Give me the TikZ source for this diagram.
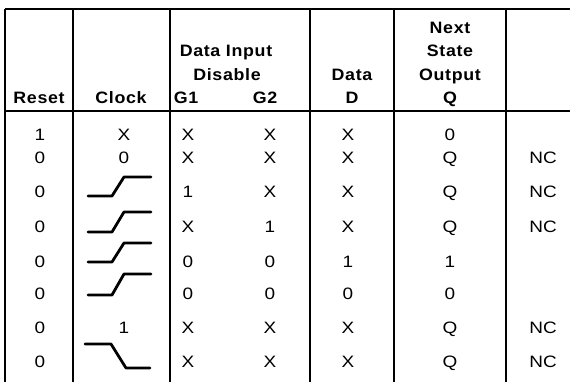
\documentclass[tikz,border=0pt]{standalone}
\usepackage{fontspec}
\setmainfont{Liberation Sans}[FakeStretch=1.15]
\newfontfamily\hdfont{Liberation Sans}[FakeStretch=1.08,LetterSpace=4]
\begin{document}
\begin{tikzpicture}[x=1pt,y=-1pt,
  rule/.style={line width=1.8pt},
  wave/.style={line width=2.8pt,line cap=round,line join=round},
  hd/.style={font=\hdfont\bfseries\fontsize{16.5}{19}\selectfont,inner sep=0pt,anchor=base},
  val/.style={font=\fontsize{16.5}{19}\selectfont,inner sep=0pt,anchor=base}]
\useasboundingbox (0,0) rectangle (570,382);
\fill[white] (0,0) rectangle (570,382);
% rules
\draw[rule] (5,9) -- (570,9);
\draw[rule] (5,111) -- (570,111);
\foreach \x in {5,73,170,310,394,506} \draw[rule] (\x,9) -- (\x,382);
% header
\node[hd] (hReset) at (39,104) {Reset};
\node[hd] (hClock) at (121,104) {Clock};
\node[hd] (hG1) at (186,104) {G1};
\node[hd] (hG2) at (265,104) {G2};
\node[hd] (hDi1) at (226,57) {Data Input};
\node[hd] (hDi2) at (227,81) {Disable};
\node[hd] (hData) at (352,81) {Data};
\node[hd] (hD) at (352,104) {D};
\node[hd] (hN1) at (450,34) {Next};
\node[hd] (hN2) at (450,57) {State};
\node[hd] (hN3) at (450,81) {Output};
\node[hd] (hQ) at (450,104) {Q};
% rows
\foreach \y/\r/\c/\ga/\gb/\d/\q/\n [count=\i] in {
 141/1/X/X/X/X/0/,
 164/0/0/X/X/X/Q/NC,
 198/0//1/X/X/Q/NC,
 233/0//X/1/X/Q/NC,
 267/0//0/0/1/1/,
 299/0//0/0/0/0/,
 333/0/1/X/X/X/Q/NC,
 367/0//X/X/X/Q/NC}{
  \node[val] (r\i) at (40,\y) {\r};
  \node[val] (c\i) at (124,\y) {\c};
  \node[val] (g\i) at (188,\y) {\ga};
  \node[val] (h\i) at (270,\y) {\gb};
  \node[val] (d\i) at (348,\y) {\d};
  \node[val] (q\i) at (450,\y) {\q};
  \node[val] (n\i) at (543,\y) {\n};
}
% clock waveforms
\foreach \lo/\hi in {196/177,232/212,262/243,295/274}
  \draw[wave] (88,\lo) -- (112,\lo) -- (124,\hi) -- (151,\hi);
\draw[wave] (85,344) -- (111,344) -- (126,368) -- (150,368);
\end{tikzpicture}
\end{document}
